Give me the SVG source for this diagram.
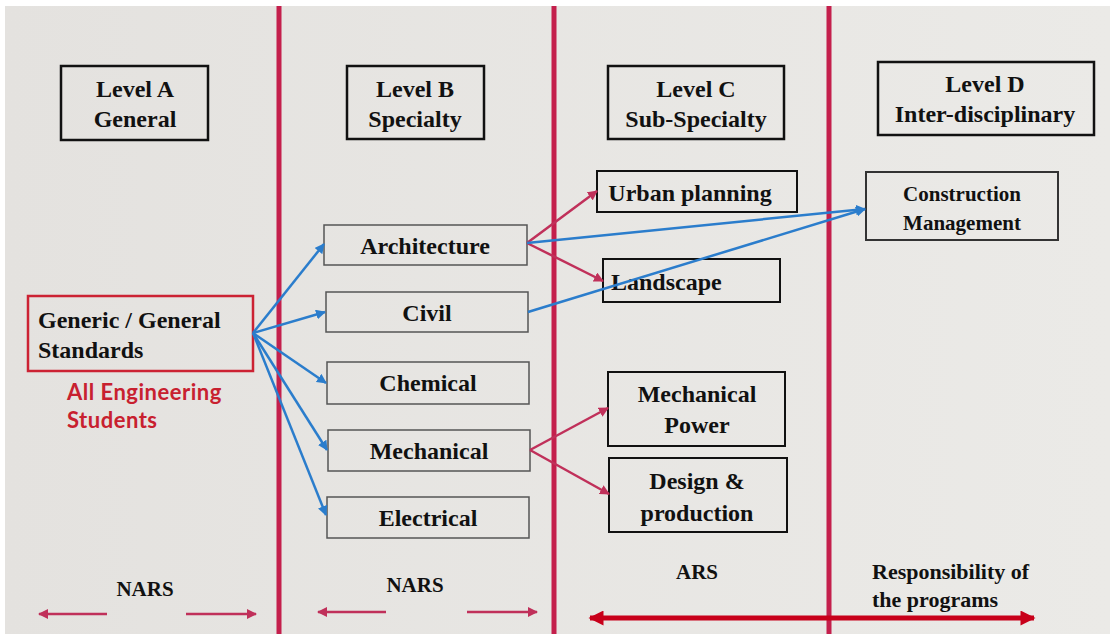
<svg xmlns="http://www.w3.org/2000/svg" width="1115" height="634" viewBox="0 0 1115 634">
<defs>
<linearGradient id="bg" x1="0" y1="0" x2="1" y2="0">
<stop offset="0" stop-color="#e4e2df"/>
<stop offset="1" stop-color="#ebeae7"/>
</linearGradient>
<marker id="ab" viewBox="0 0 10 10" refX="9" refY="5" markerWidth="4" markerHeight="4" orient="auto" markerUnits="strokeWidth"><path d="M0,0 L10,5 L0,10 z" fill="#2b7dcc"/></marker>
<marker id="ar" viewBox="0 0 10 10" refX="9" refY="5" markerWidth="4" markerHeight="4" orient="auto" markerUnits="strokeWidth"><path d="M0,0 L10,5 L0,10 z" fill="#c0305a"/></marker>
<marker id="ab2" viewBox="0 0 10 10" refX="9" refY="5" markerWidth="5" markerHeight="3" orient="auto-start-reverse" markerUnits="strokeWidth"><path d="M0,0 L10,5 L0,10 z" fill="#c8001a"/></marker>
</defs>
<style>
.t{font-family:"Liberation Serif","Times New Roman",serif;font-weight:bold;fill:#111;font-size:24px;text-anchor:middle}
.s{font-size:21px}
.f{font-size:22px}
.lvl{fill:none;stroke:#111;stroke-width:2.5}
.bx{fill:none;stroke:#111;stroke-width:2}
.gb{fill:none;stroke:#555;stroke-width:1.5}
.div{stroke:#c41f4c;stroke-width:5}
.blue{stroke:#2b7dcc;stroke-width:2.5;fill:none;marker-end:url(#ab)}
.red{stroke:#c0305a;stroke-width:2.5;fill:none;marker-end:url(#ar)}
.small{stroke:#c0305a;stroke-width:2.5;fill:none;marker-end:url(#ar)}
.ae{font-family:Lato,"Liberation Sans",sans-serif;font-weight:bold;font-size:22px;fill:#c8202f;letter-spacing:0.5px}
</style>
<rect width="1115" height="634" fill="#fff"/>
<rect x="5" y="6" width="1105" height="628" fill="url(#bg)"/>
<g id="dividers">
<line class="div" x1="279" y1="6" x2="279" y2="634"/>
<line class="div" x1="554" y1="6" x2="554" y2="634"/>
<line class="div" x1="829" y1="6" x2="829" y2="634"/>
</g>
<g id="levelA"><rect class="lvl" x="61" y="66" width="147" height="74"/><text class="t" x="135" y="97">Level A</text><text class="t" x="135" y="127">General</text></g>
<g id="levelB"><rect class="lvl" x="347" y="66" width="137" height="73"/><text class="t" x="415" y="97">Level B</text><text class="t" x="415" y="127">Specialty</text></g>
<g id="levelC"><rect class="lvl" x="608" y="66" width="176" height="73"/><text class="t" x="696" y="97">Level C</text><text class="t" x="696" y="127">Sub-Specialty</text></g>
<g id="levelD"><rect class="lvl" x="878" y="62" width="216" height="73"/><text class="t" x="985" y="92">Level D</text><text class="t" x="985" y="122">Inter-disciplinary</text></g>
<g id="generic"><rect fill="none" stroke="#cc2233" stroke-width="2.5" x="28" y="296" width="225" height="75"/><text class="t" x="38" y="328" style="text-anchor:start">Generic / General</text><text class="t" x="38" y="358" style="text-anchor:start">Standards</text></g>
<g id="allEng"><text class="ae" x="67" y="400">All Engineering</text><text class="ae" x="67" y="428">Students</text></g>
<g id="architecture"><rect class="gb" x="324" y="225" width="203" height="40"/><text class="t" x="425" y="254">Architecture</text></g>
<g id="civil"><rect class="gb" x="326" y="292" width="202" height="40"/><text class="t" x="427" y="321">Civil</text></g>
<g id="chemical"><rect class="gb" x="327" y="362" width="202" height="42"/><text class="t" x="428" y="391">Chemical</text></g>
<g id="mechanical"><rect class="gb" x="328" y="430" width="202" height="41"/><text class="t" x="429" y="459">Mechanical</text></g>
<g id="electrical"><rect class="gb" x="327" y="497" width="202" height="41"/><text class="t" x="428" y="526">Electrical</text></g>
<g id="urban"><rect class="bx" x="597" y="171" width="200" height="41"/><text class="t" x="690" y="201">Urban planning</text></g>
<g id="landscape"><rect class="bx" x="603" y="259" width="177" height="43"/><text class="t" x="611" y="290" style="text-anchor:start">Landscape</text></g>
<g id="mechpower"><rect class="bx" x="608" y="372" width="177" height="74"/><text class="t" x="697" y="402">Mechanical</text><text class="t" x="697" y="433">Power</text></g>
<g id="design"><rect class="bx" x="609" y="458" width="178" height="74"/><text class="t" x="697" y="489">Design &amp;</text><text class="t" x="697" y="521">production</text></g>
<g id="construction"><rect class="gb" style="stroke:#333;stroke-width:2" x="866" y="172" width="192" height="68"/><text class="t s" x="962" y="201">Construction</text><text class="t s" x="962" y="230">Management</text></g>
<g id="connectors">
<line class="blue" x1="253" y1="333" x2="324" y2="244"/>
<line class="blue" x1="253" y1="333" x2="325" y2="312"/>
<line class="blue" x1="253" y1="333" x2="326" y2="383"/>
<line class="blue" x1="253" y1="333" x2="327" y2="450"/>
<line class="blue" x1="253" y1="333" x2="326" y2="515"/>
<line class="red" x1="527" y1="243" x2="597" y2="191"/>
<line class="red" x1="527" y1="243" x2="603" y2="281"/>
<line class="red" x1="530" y1="450" x2="608" y2="408"/>
<line class="red" x1="530" y1="450" x2="609" y2="494"/>
<line class="blue" x1="527" y1="243" x2="865" y2="209"/>
<line class="blue" x1="528" y1="312" x2="865" y2="209"/>
</g>
<g id="footer">
<text class="t s" x="145" y="596">NARS</text>
<text class="t s" x="415" y="592">NARS</text>
<text class="t s" x="697" y="579">ARS</text>
<text class="t f" x="872" y="579" style="text-anchor:start">Responsibility of</text>
<text class="t f" x="872" y="607" style="text-anchor:start">the programs</text>
<line class="small" x1="107" y1="614" x2="39" y2="614"/>
<line class="small" x1="186" y1="614" x2="256" y2="614"/>
<line class="small" x1="386" y1="612" x2="318" y2="612"/>
<line class="small" x1="467" y1="612" x2="537" y2="612"/>
<line stroke="#c8001a" stroke-width="5" x1="590" y1="618" x2="1034" y2="618" marker-start="url(#ab2)" marker-end="url(#ab2)"/>
</g>
</svg>
